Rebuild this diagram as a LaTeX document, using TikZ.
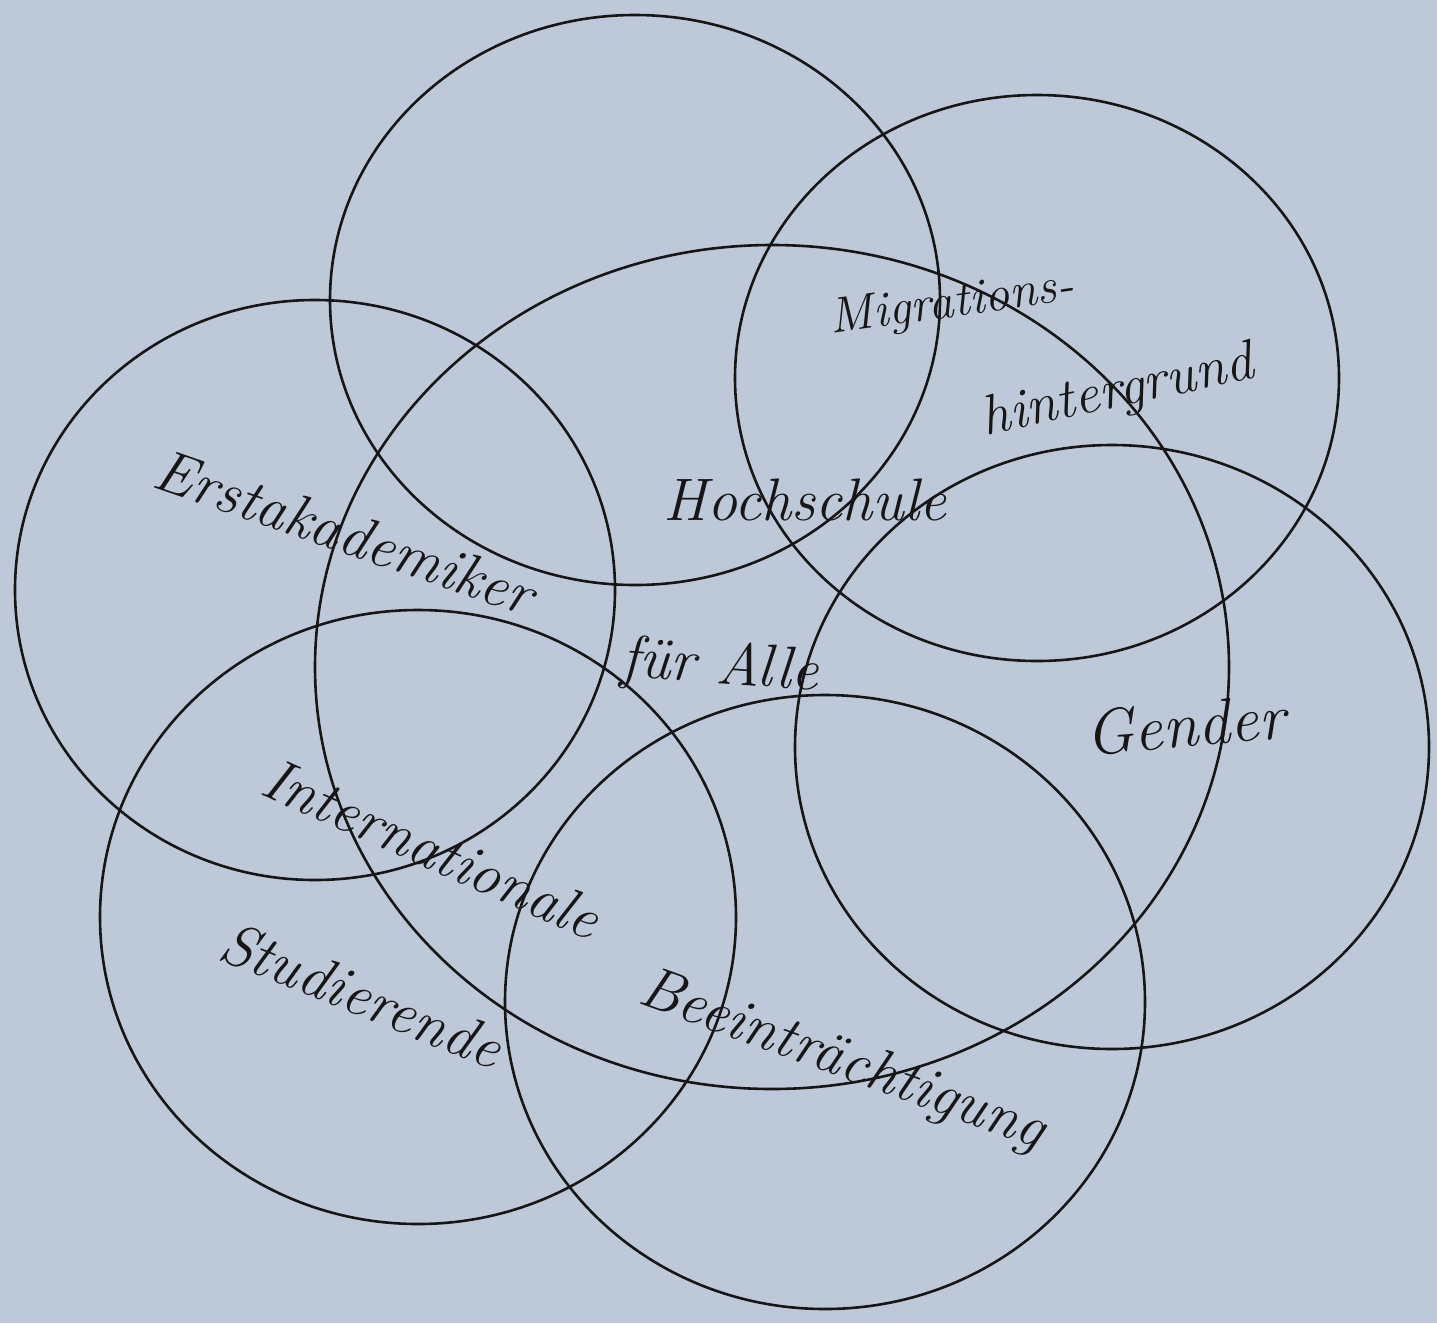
\documentclass[tikz,border=0pt]{standalone}
\usepackage{fontspec}
\begin{document}
\begin{tikzpicture}[x=1pt,y=-1pt,
  ring/.style={draw=ink,line width=2.6pt},
  hand/.style={text=ink,font=\itshape\fontsize{#1}{#1}\selectfont,inner sep=0pt},
  hand/.default=60]
\definecolor{paper}{HTML}{BDC9D9}
\definecolor{ink}{HTML}{161616}
\useasboundingbox (0,0) rectangle (1437,1323);
\fill[paper] (0,0) rectangle (1437,1323);
% circle centres
\coordinate (cTop) at (635,300);
\coordinate (cTR) at (1037,378);
\coordinate (cL) at (315,590);
\coordinate (cR) at (1112,747);
\coordinate (cBL) at (418,917);
\coordinate (cBR) at (825,1002);
\coordinate (cMid) at (772,667);
\draw[ring] (cTop) ellipse [x radius=305,y radius=285];
\draw[ring] (cTR) ellipse [x radius=302,y radius=283];
\draw[ring] (cL) ellipse [x radius=300,y radius=290];
\draw[ring] (cR) ellipse [x radius=317,y radius=302];
\draw[ring] (cBL) ellipse [x radius=318,y radius=307];
\draw[ring] (cBR) ellipse [x radius=320,y radius=307];
\draw[ring] (cMid) ellipse [x radius=457,y radius=422];
% labels
\node[hand=50,rotate=8] (mig) at (952,305) {Migrations-};
\node[hand=56,rotate=12] (hint) at (1118,393) {hintergrund};
\node[hand=60] (hoch) at (805,500) {Hochschule};
\node[hand=60,rotate=-19] (erst) at (345,532) {Erstakademiker};
\node[hand=60,rotate=-4] (fuer) at (720,668) {für Alle};
\node[hand=64,rotate=5] (gend) at (1185,725) {Gender};
\node[hand=60,rotate=-24] (intl) at (432,848) {Internationale};
\node[hand=60,rotate=-22] (stud) at (362,995) {Studierende};
\node[hand=60,rotate=-20] (beein) at (842,1062) {Beeinträchtigung};
\end{tikzpicture}
\end{document}
